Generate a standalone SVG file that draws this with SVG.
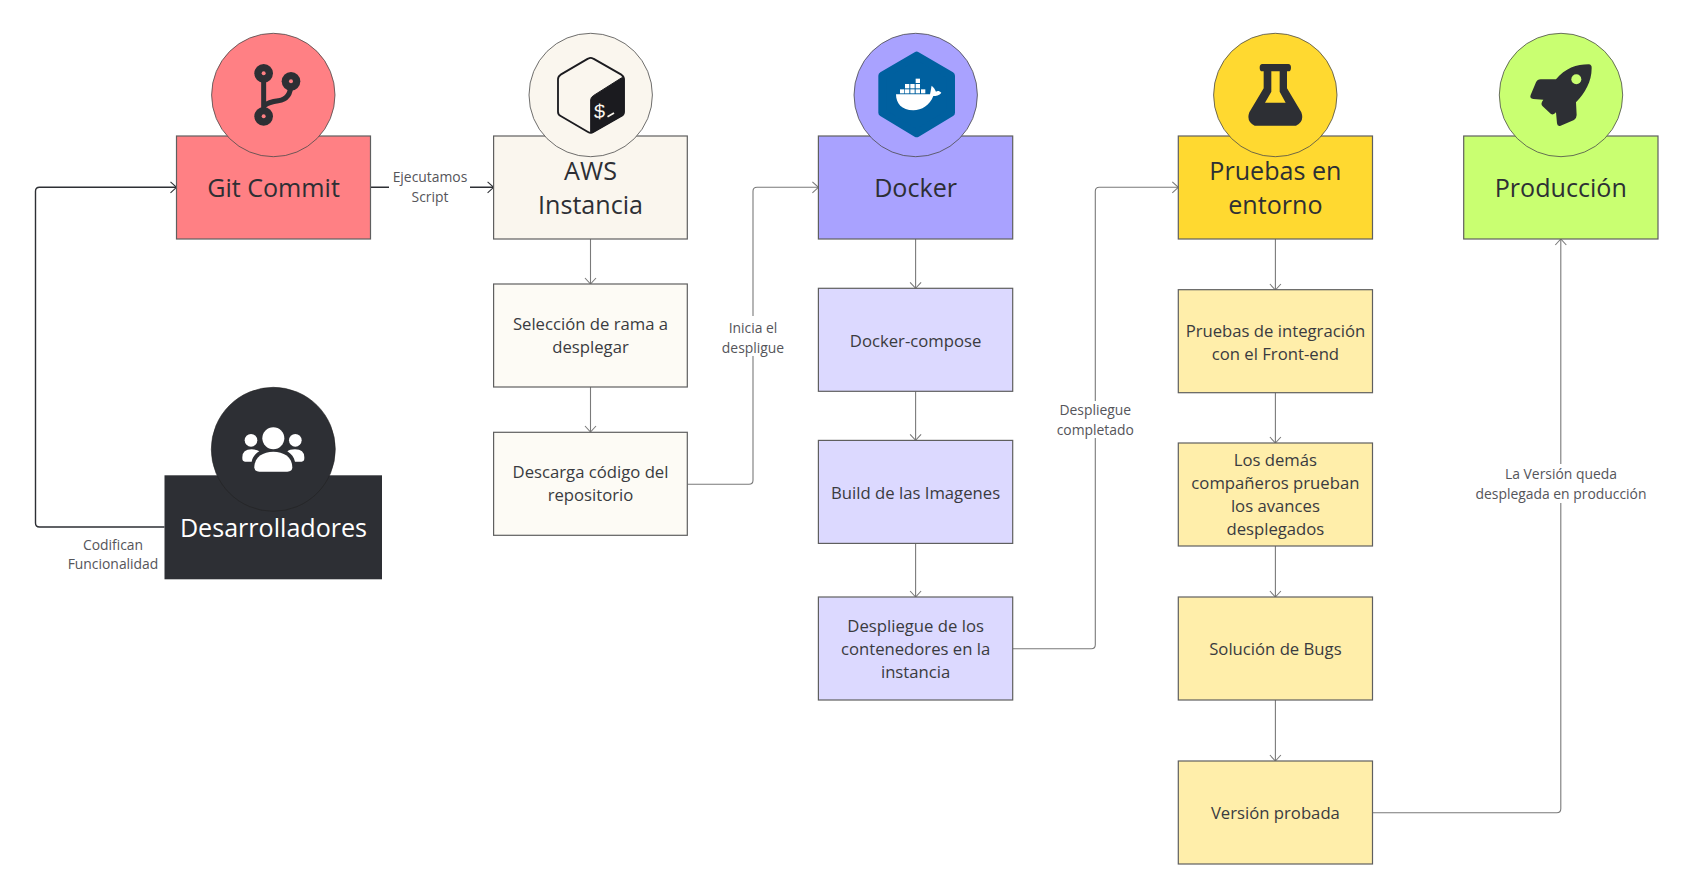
<svg xmlns="http://www.w3.org/2000/svg" width="1692" height="870" viewBox="0 0 1692 870">
<style>
text{font-family:"Open Sans","Noto Sans","Liberation Sans",sans-serif;text-anchor:middle;fill:#2d2f34}
.t{font-size:25.100px}
.b{font-size:16.700px;fill:#3a3b40}
.l{font-size:13.900px;fill:#55555a}
.box{stroke:#5f5f5f;stroke-width:1.2}
.c{fill:none;stroke-linejoin:round;marker-end:url(#a)}
.d{stroke:#2d2f34;stroke-width:1.4}
.g{stroke:#7a7a7a;stroke-width:1.1}
.ring{stroke:#4a4a4a;stroke-width:.8}
.ink{fill:#2d2f34}
</style>
<defs>
<marker id="a" markerUnits="userSpaceOnUse" markerWidth="14" markerHeight="14" refX="7" refY="6" orient="auto" overflow="visible"><path d="M1 .5L7 6L1 11.500" fill="none" stroke="context-stroke" stroke-width="1.1"/></marker>
</defs>
<rect width="1692" height="870" fill="#fff"/>
<g id="connectors">
<path class="c d" d="M164.500 527H39.500Q35.500 527 35.500 523V191.300Q35.500 187.300 39.500 187.300H176.500"/>
<path class="c d" d="M370.600 187.300H493.600"/>
<path class="c g" d="M590.500 239V284"/>
<path class="c g" d="M590.500 387V432"/>
<path class="c g" d="M687.300 484.300H749Q753 484.300 753 480.300V191.300Q753 187.300 757 187.300H818.400"/>
<path class="c g" d="M915.600 239V288.300"/>
<path class="c g" d="M915.600 391.300V440.300"/>
<path class="c g" d="M915.600 543.500V597"/>
<path class="c g" d="M1012.700 648.700H1091.300Q1095.300 648.700 1095.300 644.700V191.300Q1095.300 187.300 1099.300 187.300H1178.300"/>
<path class="c g" d="M1275.400 239V290"/>
<path class="c g" d="M1275.400 392.500V443"/>
<path class="c g" d="M1275.400 546V597"/>
<path class="c g" d="M1275.400 700V761"/>
<path class="c g" d="M1372.500 812.700H1556.800Q1560.800 812.700 1560.800 808.700V239"/>
<g id="connector-labels">
<rect x="389" y="168" width="81" height="38" fill="#fff"/>
<text class="l" x="430" y="182">Ejecutamos</text><text class="l" x="430" y="201.500">Script</text>
<rect x="720" y="316" width="66" height="40" fill="#fff"/>
<text class="l" x="753" y="332.500">Inicia el</text><text class="l" x="753" y="352.500">despligue</text>
<rect x="1058" y="401" width="75" height="37" fill="#fff"/>
<text class="l" x="1095.300" y="414.500">Despliegue</text><text class="l" x="1095.300" y="434.500">completado</text>
<rect x="1475" y="464" width="172" height="39" fill="#fff"/>
<text class="l" x="1561" y="478.500">La Versión queda</text><text class="l" x="1561" y="498.500">desplegada en producción</text>
<text class="l" x="113" y="550">Codifican</text><text class="l" x="113" y="569">Funcionalidad</text>
</g>
</g>
<g id="git-commit">
<rect class="box" x="176.500" y="136" width="194" height="103" fill="#ff8084"/>
<circle class="ring" cx="273.300" cy="95" r="61.700" fill="#ff8084"/>
<g transform="translate(200 20) scale(.3333)">
<path d="M191 160V289M194 256Q205 246 235 242Q273 238 273 190" fill="none" stroke="#2d2f34" stroke-width="15"/>
<g fill="#2d2f34"><circle cx="191" cy="160" r="28"/><circle cx="273" cy="184" r="28"/><circle cx="191" cy="289" r="28"/></g>
<g fill="#ff8084"><circle cx="191" cy="160" r="6"/><circle cx="273" cy="184" r="6"/><circle cx="191" cy="289" r="6"/></g>
</g>
<text class="t" x="273.500" y="196.500">Git Commit</text>
</g>
<g id="aws-instancia">
<rect class="box" x="493.600" y="136" width="193.700" height="103" fill="#faf6ee"/>
<circle class="ring" cx="590.700" cy="95" r="61.700" fill="#faf6ee"/>
<g transform="translate(520 20) scale(.3333)">
<path d="M204 116Q212 111 220 116L304 164Q312 169 312 178V275Q312 284 304 288L220 336Q212 341 204 336L122 288Q114 284 114 275V178Q114 169 122 164Z" fill="#faf6ee" stroke="#1b1b1f" stroke-width="5.500" stroke-linejoin="round"/>
<path d="M212 240Q212 232 220 227L304 174Q312 170 312 180V275Q312 284 304 288L220 336Q212 341 212 336Z" fill="#1b1b1f" stroke="#1b1b1f" stroke-width="3" stroke-linejoin="round"/>
</g>
<text transform="translate(599.500 118) skewY(-8)" style="font-family:'Liberation Mono',monospace;font-size:20px;font-weight:400;fill:#faf6ee">$</text>
<path d="M607.500 116.800L614 113" stroke="#faf6ee" stroke-width="1.700" fill="none"/>
<text class="t" x="590.500" y="179.500">AWS</text><text class="t" x="590.500" y="213.500">Instancia</text>
</g>
<g id="docker">
<rect class="box" x="818.400" y="136" width="194.300" height="103" fill="#a9a2ff"/>
<circle class="ring" cx="915.700" cy="95" r="61.700" fill="#a9a2ff"/>
<g transform="translate(850 25) scale(.3333)">
<path d="M200 92L303 152V263L200 325L97 263V152Z" fill="#00609f" stroke="#00609f" stroke-width="24" stroke-linejoin="round"/>
<g fill="#fff">
<path d="M138 208H240C243 195 243 190 245 182C252 188 256 195 258 200C262 197 268 197 274 203C268 212 258 213 250 213C240 240 215 256 190 256C155 256 138 235 138 208Z"/>
<rect x="150" y="193" width="13" height="12"/><rect x="165" y="193" width="13" height="12"/><rect x="181" y="193" width="13" height="12"/><rect x="197" y="193" width="13" height="12"/><rect x="213" y="193" width="13" height="12"/>
<rect x="165" y="177" width="13" height="13"/><rect x="181" y="177" width="13" height="13"/><rect x="197" y="177" width="13" height="13"/>
<rect x="197" y="161" width="13" height="13"/>
</g>
</g>
<text class="t" x="915.600" y="196.500">Docker</text>
</g>
<g id="pruebas-entorno">
<rect class="box" x="1178.300" y="136" width="194.200" height="103" fill="#ffd930"/>
<circle class="ring" cx="1275.300" cy="95" r="61.700" fill="#ffd930"/>
<g transform="translate(1210 25) scale(.3333)">
<path fill-rule="evenodd" fill="#2d2f34" d="M157 117H235Q243 117 243 128T235 139H231V190L274 262Q284 290 258 302H134Q108 290 118 262L161 190V139H157Q149 139 149 128T157 117ZM184 139V200L165 233H227L209 200V139Z"/>
</g>
<text class="t" x="1275.400" y="179.500">Pruebas en</text><text class="t" x="1275.400" y="213.500">entorno</text>
</g>
<g id="produccion">
<rect class="box" x="1463.700" y="136" width="194.300" height="103" fill="#c9ff71"/>
<circle class="ring" cx="1561" cy="95" r="61.700" fill="#c9ff71"/>
<g transform="translate(1500 25) scale(.3333)">
<path fill="#2d2f34" d="M266 118Q276 119 275 130C275 170 255 205 228 232L230 270Q230 280 222 285L182 302Q172 305 171 295L168 262Q160 272 152 266L128 244Q120 236 130 224L100 222Q88 220 92 210L108 172Q112 163 122 163L168 163C195 130 230 118 266 118Z"/>
<circle cx="229" cy="163" r="15" fill="#c9ff71"/>
</g>
<text class="t" x="1560.800" y="196.500">Producción</text>
</g>
<g id="desarrolladores">
<rect x="164.500" y="475.300" width="217.500" height="104" fill="#2d2f34"/>
<circle cx="273.300" cy="449.300" r="62" fill="#2d2f34" stroke="#222" stroke-width=".6"/>
<g transform="translate(200 380) scale(.3333)" fill="#fff">
<circle cx="220" cy="175" r="33"/><circle cx="153" cy="181" r="19"/><circle cx="286" cy="181" r="19"/>
<path d="M163 262C163 230 190 215 220 215C250 215 277 230 277 262Q277 275 262 275H178Q163 275 163 262Z"/>
<path d="M127 232Q127 208 155 208Q172 208 178 214C165 222 158 232 155 245H135Q127 245 127 235Z"/>
<path d="M313 232Q313 208 285 208Q268 208 262 214C275 222 282 232 285 245H305Q313 245 313 235Z"/>
</g>
<text class="t" x="273.500" y="536.500" style="fill:#fff">Desarrolladores</text>
</g>
<g id="seleccion"><rect class="box" x="493.600" y="284" width="193.700" height="103" fill="#fdfbf5"/><text class="b" x="590.500" y="330.200">Selección de rama a</text><text class="b" x="590.500" y="353.200">desplegar</text></g>
<g id="descarga"><rect class="box" x="493.600" y="432.300" width="193.700" height="103" fill="#fdfbf5"/><text class="b" x="590.500" y="478.200">Descarga código del</text><text class="b" x="590.500" y="501.200">repositorio</text></g>
<g id="docker-compose"><rect class="box" x="818.400" y="288.300" width="194.300" height="103" fill="#dcd9ff"/><text class="b" x="915.600" y="347">Docker-compose</text></g>
<g id="build"><rect class="box" x="818.400" y="440.400" width="194.300" height="103" fill="#dcd9ff"/><text class="b" x="915.600" y="499">Build de las Imagenes</text></g>
<g id="despliegue"><rect class="box" x="818.400" y="597" width="194.300" height="103" fill="#dcd9ff"/><text class="b" x="915.600" y="632.200">Despliegue de los</text><text class="b" x="915.600" y="655.200">contenedores en la</text><text class="b" x="915.600" y="678.200">instancia</text></g>
<g id="integracion"><rect class="box" x="1178.300" y="289.700" width="194.200" height="103" fill="#ffeeaa"/><text class="b" x="1275.400" y="337">Pruebas de integración</text><text class="b" x="1275.400" y="360">con el Front-end</text></g>
<g id="companeros"><rect class="box" x="1178.300" y="443" width="194.200" height="103" fill="#ffeeaa"/><text class="b" x="1275.400" y="466.200">Los demás</text><text class="b" x="1275.400" y="489.200">compañeros prueban</text><text class="b" x="1275.400" y="512.200">los avances</text><text class="b" x="1275.400" y="535.200">desplegados</text></g>
<g id="bugs"><rect class="box" x="1178.300" y="597" width="194.200" height="103" fill="#ffeeaa"/><text class="b" x="1275.400" y="655.200">Solución de Bugs</text></g>
<g id="version-probada"><rect class="box" x="1178.300" y="761" width="194.200" height="103" fill="#ffeeaa"/><text class="b" x="1275.400" y="819.200">Versión probada</text></g>
</svg>
